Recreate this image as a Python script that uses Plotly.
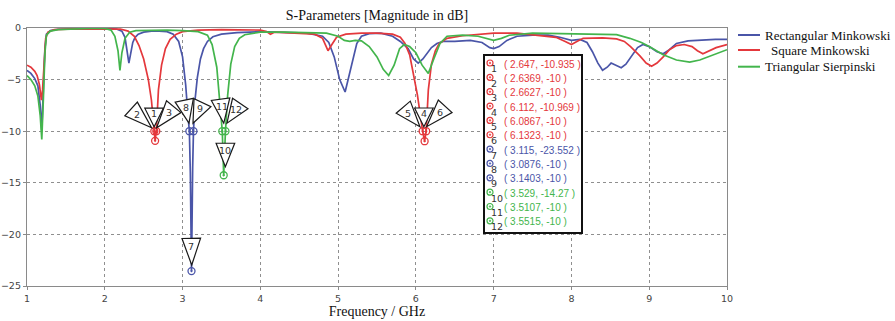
import plotly.graph_objects as go

# ---------------- data ----------------
series_names = ["Rectangular Minkowski", "Square Minkowski", "Triangular Sierpinski"]
series_colors = ["#4a55a8", "#e4383c", "#43b54c"]

rect_freq = [1.00, 1.05, 1.10, 1.14, 1.17, 1.19, 1.21, 1.23, 1.25, 1.30, 1.40, 1.60, 1.80, 2.00,
             2.15, 2.22, 2.26, 2.29, 2.31, 2.33, 2.36, 2.39, 2.43, 2.50, 2.60, 2.70, 2.80, 2.88,
             2.95, 3.00, 3.04, 3.07, 3.0876, 3.10, 3.115, 3.13, 3.1403, 3.16, 3.19, 3.23, 3.27,
             3.32, 3.39, 3.50, 3.70, 4.00, 4.30, 4.60, 4.80, 4.88, 4.95, 5.02, 5.09, 5.14, 5.19,
             5.24, 5.30, 5.40, 5.55, 5.70, 5.80, 5.90, 5.97, 6.03, 6.09, 6.14, 6.20, 6.27, 6.35,
             6.50, 6.70, 6.85, 6.95, 7.00, 7.07, 7.17, 7.30, 7.50, 7.70, 7.85, 8.00, 8.11, 8.20,
             8.27, 8.34, 8.40, 8.46, 8.51, 8.57, 8.64, 8.70, 8.77, 8.85, 8.92, 9.00, 9.10, 9.18,
             9.26, 9.35, 9.50, 9.70, 9.85, 10.00]
rect_db = [-4.1, -4.4, -4.9, -5.6, -7.5, -9.9, -6.0, -2.0, -0.6, -0.25, -0.12, -0.08, -0.05, -0.05,
           -0.1, -0.3, -0.9, -2.5, -3.4, -2.6, -1.4, -0.9, -0.6, -0.4, -0.3, -0.3, -0.35, -0.6,
           -1.3, -2.8, -5.5, -8.5, -10.0, -14.0, -23.552, -13.5, -10.0, -7.0, -4.8, -3.0, -2.0,
           -1.3, -0.85, -0.6, -0.45, -0.35, -0.4, -0.5, -0.8, -1.4, -2.8, -5.0, -6.2, -4.6, -2.8,
           -1.5, -0.8, -0.55, -0.5, -0.8, -1.3, -2.0, -3.0, -3.4, -3.0, -2.5, -1.9, -1.5, -1.3,
           -1.3, -1.2, -1.4, -1.9, -2.0, -1.8, -1.2, -0.8, -0.7, -0.7, -0.9, -1.2, -1.1, -1.4,
           -2.3, -3.4, -4.1, -3.8, -3.4, -3.6, -3.85, -3.5, -2.8, -1.9, -1.6, -1.8, -2.3, -2.5,
           -2.1, -1.5, -1.25, -1.15, -1.1, -1.1]

square_freq = [1.00, 1.05, 1.10, 1.13, 1.16, 1.185, 1.20, 1.22, 1.24, 1.27, 1.35, 1.60, 2.00, 2.20,
               2.30, 2.38, 2.44, 2.50, 2.56, 2.60, 2.6369, 2.647, 2.6627, 2.69, 2.73, 2.78, 2.84,
               2.92, 3.00, 3.20, 3.50, 3.80, 4.00, 4.08, 4.13, 4.18, 4.30, 4.50, 4.70, 4.80, 4.87,
               4.92, 4.98, 5.10, 5.30, 5.50, 5.70, 5.80, 5.86, 5.92, 5.96, 6.02, 6.0867, 6.112,
               6.1323, 6.16, 6.20, 6.25, 6.30, 6.40, 6.60, 6.80, 7.00, 7.30, 7.60, 7.80, 7.92, 8.00,
               8.07, 8.15, 8.40, 8.58, 8.68, 8.76, 8.88, 8.96, 9.03, 9.10, 9.18, 9.26, 9.35, 9.45,
               9.55, 9.62, 9.69, 9.78, 9.86, 10.00]
square_db = [-3.6, -3.8, -4.2, -4.6, -5.5, -7.0, -6.0, -3.0, -1.0, -0.4, -0.15, -0.08, -0.05, -0.1,
             -0.3, -0.8, -1.7, -3.0, -5.0, -7.0, -10.0, -10.935, -10.0, -6.0, -3.6, -2.0, -1.1,
             -0.6, -0.35, -0.2, -0.15, -0.15, -0.2, -0.35, -0.6, -0.4, -0.45, -0.5, -0.6, -1.0, -2.2,
             -1.6, -0.9, -0.6, -0.5, -0.5, -0.6, -0.9, -1.5, -2.6, -4.1, -6.5, -10.0, -10.969,
             -10.0, -6.0, -3.5, -2.2, -1.5, -1.0, -0.75, -0.6, -0.5, -0.5, -0.7, -0.9, -1.3, -1.6,
             -1.3, -1.0, -0.95, -1.05, -1.3, -1.8, -2.7, -3.4, -3.7, -3.4, -2.8, -2.1, -1.7, -1.6,
             -1.8, -2.2, -2.5, -2.2, -1.9, -1.6]

tri_freq = [1.00, 1.05, 1.10, 1.14, 1.17, 1.19, 1.21, 1.23, 1.25, 1.30, 1.40, 1.60, 1.80, 2.00,
            2.08, 2.13, 2.17, 2.195, 2.22, 2.26, 2.32, 2.40, 2.60, 2.80, 3.00, 3.20, 3.32, 3.38,
            3.44, 3.48, 3.5107, 3.529, 3.5515, 3.58, 3.62, 3.67, 3.73, 3.80, 3.90, 4.00, 4.30,
            4.60, 4.85, 5.00, 5.08, 5.15, 5.22, 5.30, 5.40, 5.50, 5.58, 5.65, 5.72, 5.79, 5.85,
            5.92, 6.00, 6.08, 6.16, 6.23, 6.31, 6.40, 6.60, 6.80, 6.92, 7.00, 7.10, 7.20, 7.50,
            7.80, 8.20, 8.58, 8.75, 8.90, 9.00, 9.18, 9.35, 9.52, 9.65, 9.78, 9.90, 10.00]
tri_db = [-4.6, -5.0, -5.6, -6.6, -8.5, -10.8, -7.0, -2.5, -0.7, -0.3, -0.15, -0.08, -0.05, -0.05,
          -0.2, -0.8, -2.2, -4.1, -2.4, -1.0, -0.4, -0.25, -0.2, -0.2, -0.25, -0.35, -0.7, -1.6,
          -3.8, -7.0, -10.0, -14.27, -10.0, -6.5, -3.5, -1.8, -1.0, -0.65, -0.5, -0.4, -0.4,
          -0.45, -0.5, -0.8, -1.2, -1.3, -1.2, -1.25, -1.8, -2.8, -4.0, -4.6, -3.6, -2.0, -1.6,
          -1.8, -2.4, -3.6, -4.4, -3.0, -1.5, -0.8, -0.7, -0.8, -1.0, -1.2, -1.0, -0.7, -0.5,
          -0.55, -0.6, -0.65, -1.0, -1.4, -1.8, -2.6, -3.1, -3.3, -3.1, -2.7, -2.35, -2.1]

marker_ids = [1, 2, 3, 4, 5, 6, 7, 8, 9, 10, 11, 12]
marker_freq = [2.647, 2.6369, 2.6627, 6.112, 6.0867, 6.1323, 3.115, 3.0876, 3.1403, 3.529, 3.5107, 3.5515]
marker_db = [-10.935, -10, -10, -10.969, -10, -10, -23.552, -10, -10, -14.27, -10, -10]
marker_series = [1, 1, 1, 1, 1, 1, 0, 0, 0, 2, 2, 2]

x_ticks = [1, 2, 3, 4, 5, 6, 7, 8, 9, 10]
y_ticks = [0, -5, -10, -15, -20, -25]

# ---------------- layout geometry (pixels) ----------------
W, H = 895, 321
ML, MR, MT, MB = 27, 168, 28, 35
PW, PH = W - ML - MR, H - MT - MB


def xp(px):
    return (px - ML) / PW


def yp(py):
    return (H - MB - py) / PH


# label triangle geometry: tip offset from marker (screen px, y down), base->tip vector
label_geom = {
    1: ((-1, -14), (0, 18.7)),
    2: ((-2.7, -3.5), (20.5, 18.7)),
    3: ((0.3, -3.5), (-17.1, 21)),
    4: ((-0.7, -14.5), (0, 18.7)),
    5: ((-2.7, -4.5), (16.7, 19.5)),
    6: ((0.4, -4.5), (-18.6, 20.4)),
    7: ((0.2, -6), (0.4, 26.7)),
    8: ((-0.4, -8), (4.7, 23)),
    9: ((-0.5, -8), (-9.5, 20.5)),
    10: ((1.7, -8.6), (0, 23.4)),
    11: ((1.5, -8), (3.2, 24)),
    12: ((1.5, -8), (-13.3, 19.7)),
}
HALF = 9.3

fig = go.Figure()

for name, color, fx, fy in zip(series_names, series_colors,
                               [rect_freq, square_freq, tri_freq],
                               [rect_db, square_db, tri_db]):
    fig.add_trace(go.Scatter(x=fx, y=fy, mode="lines", name=name,
                             line=dict(color=color, width=1.7), showlegend=False))

for s in range(3):
    xs = [f for f, k in zip(marker_freq, marker_series) if k == s]
    ys = [d for d, k in zip(marker_db, marker_series) if k == s]
    fig.add_trace(go.Scatter(x=xs, y=ys, mode="markers", showlegend=False,
                             marker=dict(symbol="circle-open-dot", size=7,
                                         color=series_colors[s], line=dict(width=1.3))))

shapes = []
annotations = []

# marker label triangles
for i, mid in enumerate(marker_ids):
    (tx, ty), (dx, dy) = label_geom[mid]
    L = (dx * dx + dy * dy) ** 0.5
    ppx, ppy = -dy / L * HALF, dx / L * HALF
    bx, by = tx - dx, ty - dy
    verts = [(tx, ty), (bx + ppx, by + ppy), (bx - ppx, by - ppy)]
    path = "M{:.2f},{:.2f} L{:.2f},{:.2f} L{:.2f},{:.2f} Z".format(
        *[c for (vx, vy) in verts for c in (vx, -vy)])
    shapes.append(dict(type="path", xref="x", yref="y", xsizemode="pixel", ysizemode="pixel",
                       xanchor=marker_freq[i], yanchor=marker_db[i], path=path,
                       fillcolor="white", line=dict(color="#1a1a1a", width=1.2), layer="above"))
    cx, cy = bx + 0.3 * dx, by + 0.3 * dy
    annotations.append(dict(x=marker_freq[i], y=marker_db[i], xref="x", yref="y",
                            text=str(mid), showarrow=False, xshift=cx, yshift=-cy,
                            font=dict(family="DejaVu Sans", size=9.5, color="#333")))

# marker value box
shapes.append(dict(type="rect", xref="paper", yref="paper", x0=xp(484), x1=xp(582),
                   y0=yp(233), y1=yp(55), fillcolor="white",
                   line=dict(color="#111", width=2), layer="above"))
for k, mid in enumerate(marker_ids):
    row_y = 64 + k * 14.35
    col = series_colors[marker_series[k]]
    shapes.append(dict(type="circle", xref="paper", yref="paper", xsizemode="pixel",
                       ysizemode="pixel", xanchor=xp(490), yanchor=yp(row_y - 1),
                       x0=-3, x1=3, y0=-3, y1=3, line=dict(color=col, width=1.2), layer="above"))
    shapes.append(dict(type="circle", xref="paper", yref="paper", xsizemode="pixel",
                       ysizemode="pixel", xanchor=xp(490), yanchor=yp(row_y - 1),
                       x0=-0.8, x1=0.8, y0=-0.8, y1=0.8, fillcolor=col,
                       line=dict(color=col, width=0.6), layer="above"))
    annotations.append(dict(x=xp(489), y=yp(row_y + 5), xref="paper", yref="paper",
                            xanchor="left", yanchor="middle", showarrow=False, text=str(mid),
                            font=dict(family="DejaVu Sans", size=9.5, color="#333")))
    annotations.append(dict(x=xp(502), y=yp(row_y), xref="paper", yref="paper",
                            xanchor="left", yanchor="middle", showarrow=False,
                            text="( {:g}, {:g} )".format(marker_freq[k], marker_db[k]),
                            font=dict(family="Liberation Sans", size=10, color=col)))

# custom legend
legend_y = [35, 50, 66.7]
legend_x = [763, 769, 763]
for name, color, ly, lx in zip(series_names, series_colors, legend_y, legend_x):
    shapes.append(dict(type="line", xref="paper", yref="paper", x0=xp(738), x1=xp(760),
                       y0=yp(ly), y1=yp(ly), line=dict(color=color, width=2)))
    annotations.append(dict(x=xp(lx), y=yp(ly), xref="paper", yref="paper", xanchor="left",
                            yanchor="middle", showarrow=False, text=name,
                            font=dict(family="Liberation Serif", size=13, color="#111")))

axis_common = dict(showline=True, linecolor="#8a8a8a", linewidth=1.3, mirror=True,
                   showgrid=True, gridcolor="#8f8f8f", griddash="dot", gridwidth=1.2,
                   zeroline=False, ticks="outside", ticklen=3, tickcolor="#8a8a8a",
                   automargin=False,
                   tickfont=dict(family="DejaVu Sans", size=9.5, color="#444"))

fig.update_layout(
    width=W, height=H,
    margin=dict(l=ML, r=MR, t=MT, b=MB),
    paper_bgcolor="white", plot_bgcolor="white",
    title=dict(text="S-Parameters [Magnitude in dB]", x=0.5, xref="paper",
               y=1 - 15 / H, yanchor="middle",
               font=dict(family="Liberation Serif", size=14, color="#111")),
    xaxis=dict(range=[1, 10], tickvals=x_ticks, ticklabelstandoff=0, **axis_common,
               title=dict(text="Frequency / GHz", standoff=0,
                          font=dict(family="Liberation Serif", size=14, color="#111"))),
    yaxis=dict(range=[-25, 0], tickvals=y_ticks, ticklabelstandoff=0, **axis_common),
    shapes=shapes,
    annotations=annotations,
    showlegend=False,
)

fig.write_html("out.html")
